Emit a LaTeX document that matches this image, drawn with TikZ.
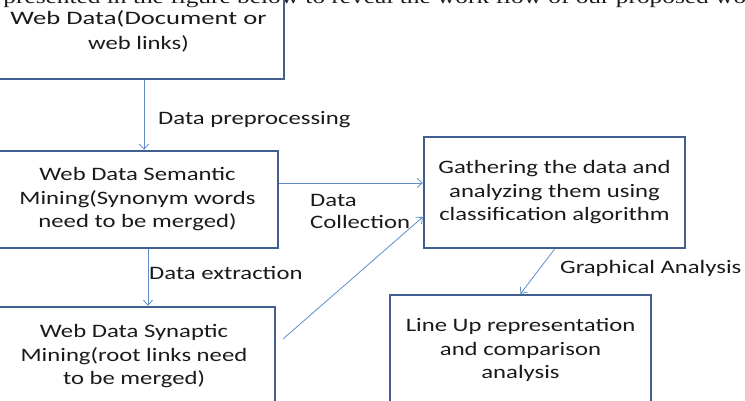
\documentclass[tikz,border=0pt]{standalone}
\usepackage{fontspec}
\setmainfont{Carlito}
\newfontfamily\serifc{Liberation Serif}
\usetikzlibrary{arrows.meta}
\definecolor{boxc}{HTML}{41608F}
\definecolor{arrc}{HTML}{5E8DCA}
\definecolor{txtc}{HTML}{1A1A1A}
\newcommand\sx[1]{\scalebox{1.3}[1]{#1}}
\begin{document}
\begin{tikzpicture}[x=1pt,y=-1pt,
  box/.style={draw=boxc,line width=2.4pt,inner sep=0pt,align=center,text=txtc,
    font=\fontsize{19}{23.5}\selectfont},
  lbl/.style={inner sep=0pt,text=txtc,font=\fontsize{19}{22}\selectfont},
  arr/.style={draw=arrc,line width=0.8pt,-{Straight Barb[length=5pt,width=9pt,line width=0.8pt]}}]
\useasboundingbox (0,0) rectangle (745,400);
\clip (0,0) rectangle (745,400);
% clipped sentence above the figure
\node[anchor=base west,inner sep=0pt,text=txtc,font=\serifc\fontsize{19.5}{20}\selectfont] (sent) at (-27,3)
  {\sx{be presented in the figure below to reveal the work flow of our proposed work}};
% boxes
\node[box,minimum width=291pt,minimum height=95pt] (web) at (138.5,31.5)
  {\scalebox{1.4}[1]{Web Data(Document or}\\[1pt]\sx{web links)}};
\node[box,minimum width=281pt,minimum height=97pt] (sem) at (137.5,199.5)
  {\sx{Web Data Semantic}\\\sx{Mining(Synonym words}\\\sx{need to be merged)}};
\node[box,minimum width=282pt,minimum height=99pt] (syn) at (134,356.5)
  {\sx{Web Data Synaptic}\\\sx{Mining(root links need}\\\sx{to be merged)}};
\node[box,minimum width=261pt,minimum height=111pt] (gath) at (554.5,192.5)
  {\sx{Gathering the data and}\\\sx{analyzing them using}\\\sx{classification algorithm}};
\node[box,minimum width=261pt,minimum height=110pt] (line) at (520.5,350)
  {\sx{Line Up representation}\\\sx{and comparison}\\\sx{analysis}};
% connectors
\draw[arr] ([xshift=5.5pt]web.south) -- ([xshift=5.5pt]web.south |- sem.north);
\draw[arr] ([xshift=10.5pt]sem.south) -- ([xshift=10.5pt]sem.south |- syn.north);
\draw[arr] ([yshift=16.5pt]sem.east) -- ([yshift=16.5pt]sem.east -| gath.west);
\draw[arr] ([shift={(7pt,-33pt)}]syn.north east) -- ([yshift=-24.5pt]gath.west);
\draw[arr] (gath.south) -- (line.north);
% labels
\node[lbl,anchor=west] (lpre) at (158,120) {\sx{Data preprocessing}};
\node[lbl,anchor=west] (lext) at (149,273) {\sx{Data extraction}};
\node[lbl,anchor=west,align=left] (lcol) at (310,211) {\sx{Data}\\\sx{Collection}};
\node[lbl,anchor=west] (lgra) at (560,268) {\sx{Graphical Analysis}};
\end{tikzpicture}
\end{document}
